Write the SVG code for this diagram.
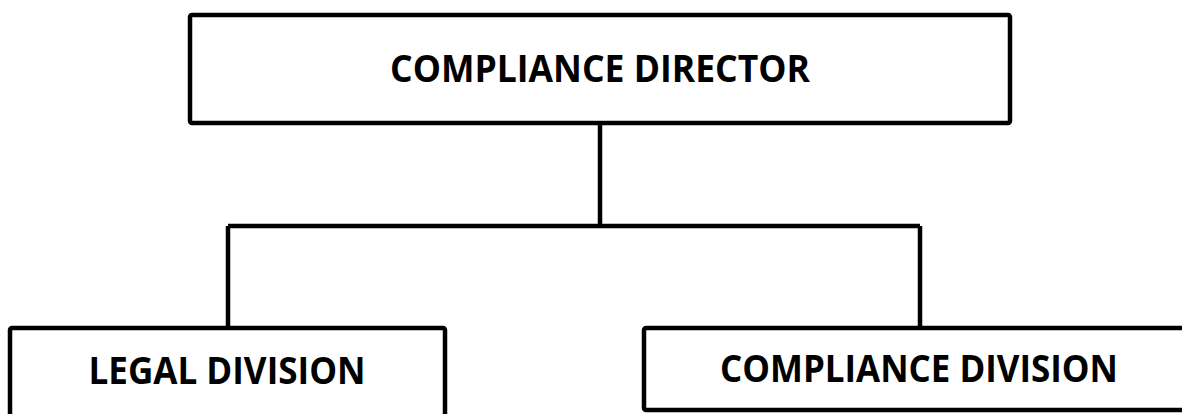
<svg xmlns="http://www.w3.org/2000/svg" width="1182" height="414" viewBox="0 0 1182 414">
<style>
.box{fill:#fff;stroke:#000;stroke-width:4.5}
.lbl{font-family:"Open Sans","Liberation Sans",sans-serif;font-weight:700;font-size:37px;fill:#000;text-anchor:middle}
.con{fill:none;stroke:#000;stroke-width:4.5}
</style>
<rect width="1182" height="414" fill="#fff"/>
<g id="connectors">
<path class="con" d="M600 123V226M228 226H920M228 226V328M920 226V328"/>
</g>
<g id="director">
<rect class="box" x="190" y="15" width="820" height="108" rx="2"/>
<text class="lbl" x="600" y="82" textLength="420" lengthAdjust="spacingAndGlyphs">COMPLIANCE DIRECTOR</text>
</g>
<g id="legal">
<rect class="box" x="10" y="328" width="435" height="100" rx="2"/>
<text class="lbl" x="227" y="384" textLength="277" lengthAdjust="spacingAndGlyphs">LEGAL DIVISION</text>
</g>
<g id="compliance-division">
<rect class="box" x="644" y="328" width="560" height="82" rx="2"/>
<text class="lbl" x="919" y="382" textLength="398" lengthAdjust="spacingAndGlyphs">COMPLIANCE DIVISION</text>
</g>
</svg>
